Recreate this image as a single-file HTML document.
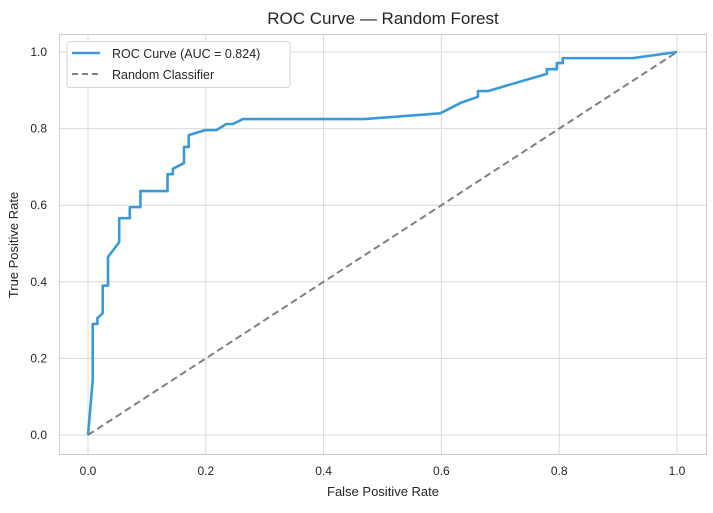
<!DOCTYPE html>
<html><head><meta charset="utf-8"><style>
body{margin:0;background:#fff;font-family:"Liberation Sans",sans-serif}
</style></head><body>
<svg id="c" width="713" height="508" xmlns="http://www.w3.org/2000/svg" font-family="Liberation Sans, sans-serif">
<rect x="0" y="0" width="713" height="508" fill="#fff"/>
<text x="383" y="24" font-size="17" text-anchor="middle" fill="#262626">ROC Curve — Random Forest</text>
<rect x="59.5" y="34.5" width="647" height="420" fill="#fff" stroke="#cccccc"/>
<g id="grid"></g><g id="ticks"></g>
<line x1="88" y1="435" x2="677" y2="52" stroke="#808080" stroke-width="2" stroke-dasharray="7,4"/>
<polyline id="roc" fill="none" stroke="#3a9ad9" stroke-width="2.6" stroke-linejoin="round"/>
<text x="383" y="496" font-size="13" text-anchor="middle" fill="#262626">False Positive Rate</text>
<text x="18" y="245" font-size="13" text-anchor="middle" fill="#262626" transform="rotate(-90 18 245)">True Positive Rate</text>
<g>
<rect x="67" y="41.5" width="223" height="46" rx="3" fill="#fff" stroke="#d6d6d6"/>
<line x1="72" y1="53" x2="100" y2="53" stroke="#3a9ad9" stroke-width="2.6"/>
<text x="112" y="58" font-size="12.5" fill="#262626">ROC Curve (AUC = 0.824)</text>
<line x1="72" y1="74" x2="100" y2="74" stroke="#808080" stroke-width="2" stroke-dasharray="6,4"/>
<text x="112" y="79" font-size="12.5" fill="#262626">Random Classifier</text>
</g>
</svg>
<script>
const fpr=[0,0.008,0.008,0.016,0.016,0.025,0.025,0.034,0.034,0.043,0.053,0.053,0.071,0.071,0.089,0.089,0.135,0.135,0.144,0.144,0.163,0.163,0.171,0.171,0.199,0.218,0.235,0.246,0.263,0.47,0.598,0.634,0.662,0.662,0.679,0.779,0.779,0.796,0.796,0.806,0.806,0.925,1];
const tpr=[0,0.143,0.29,0.29,0.305,0.318,0.39,0.39,0.465,0.483,0.504,0.566,0.566,0.595,0.595,0.637,0.637,0.681,0.681,0.695,0.71,0.752,0.752,0.783,0.796,0.796,0.812,0.812,0.825,0.825,0.84,0.868,0.883,0.898,0.898,0.943,0.955,0.955,0.971,0.971,0.984,0.984,1];
const ticks=[0,0.2,0.4,0.6,0.8,1.0];
const tickLabels=["0.0","0.2","0.4","0.6","0.8","1.0"];
const X=v=>88+v*589, Y=v=>435-v*383;
const ns="http://www.w3.org/2000/svg";
const g=document.getElementById('grid'), t=document.getElementById('ticks');
ticks.forEach((v,i)=>{
 let l=document.createElementNS(ns,'line');l.setAttribute('x1',X(v));l.setAttribute('x2',X(v));l.setAttribute('y1',35);l.setAttribute('y2',454);l.setAttribute('stroke','#d9d9d9');
 
 g.appendChild(l);
 let h=document.createElementNS(ns,'line');h.setAttribute('x1',60);h.setAttribute('x2',706);h.setAttribute('y1',Y(v));h.setAttribute('y2',Y(v));h.setAttribute('stroke','#d9d9d9');
 
 g.appendChild(h);
 let a=document.createElementNS(ns,'text');a.setAttribute('x',X(v));a.setAttribute('y',475);a.setAttribute('text-anchor','middle');a.setAttribute('font-size','12');a.setAttribute('fill','#262626');a.textContent=tickLabels[i];
 
 t.appendChild(a);
 let b=document.createElementNS(ns,'text');b.setAttribute('x',47);b.setAttribute('y',Y(v)+4);b.setAttribute('text-anchor','end');b.setAttribute('font-size','12');b.setAttribute('fill','#262626');b.textContent=tickLabels[i];
 
 t.appendChild(b);
});
document.getElementById('roc').setAttribute('points',fpr.map((f,i)=>X(f)+','+Y(tpr[i])).join(' '));
</script>
</body></html>
